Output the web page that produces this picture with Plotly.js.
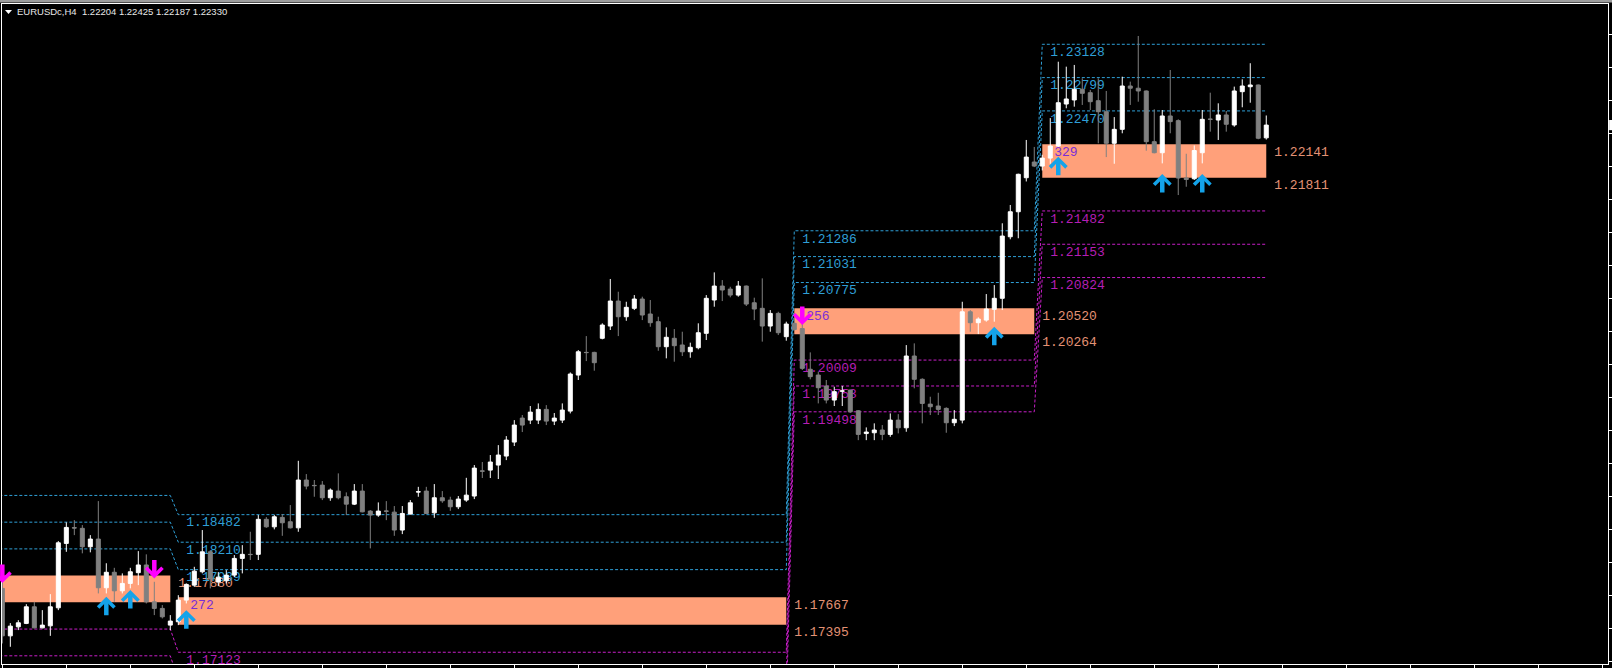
<!DOCTYPE html>
<html><head><meta charset="utf-8">
<script src="https://cdn.plot.ly/plotly-3.0.1.min.js"></script>
<style>html,body{margin:0;padding:0;background:#000;overflow:hidden}#chart{width:1612px;height:668px}</style>
</head><body><div id="chart"></div>
<script>
// ---------- data ----------
const symbol = "EURUSDc,H4";
const openP = [1.17754,1.17285,1.17374,1.17408,1.17572,1.17364,1.17384,1.17562,1.18198,1.18354,
1.18347,1.18165,1.18241,1.17760,1.17913,1.17730,1.17803,1.17909,1.17985,1.17621,
1.17556,1.17391,1.17424,1.17638,1.17786,1.17918,1.18115,1.17816,1.17829,1.17885,
1.18050,1.18090,1.18090,1.18436,1.18362,1.18455,1.18412,1.18352,1.18824,1.18771,
1.18774,1.18649,1.18715,1.18659,1.18586,1.18715,1.18517,1.18478,1.18518,1.18507,
1.18330,1.18488,1.18706,1.18715,1.18500,1.18649,1.18626,1.18560,1.18626,1.18666,
1.18914,1.18922,1.18972,1.19061,1.19199,1.19436,1.19416,1.19416,1.19522,1.19406,
1.19416,1.19505,1.19861,1.20085,1.20085,1.20224,1.20345,1.20592,1.20437,1.20520,
1.20612,1.20464,1.20388,1.20141,1.20224,1.20158,1.20091,1.20131,1.20273,1.20602,
1.20740,1.20710,1.20651,1.20740,1.20575,1.20520,1.20345,1.20470,1.20240,1.20372,
1.20320,1.19918,1.19861,1.19753,1.19614,1.19702,1.19713,1.19508,1.19283,1.19291,
1.19318,1.19275,1.19416,1.19340,1.20049,1.19819,1.19574,1.19555,1.19532,1.19390,
1.19416,1.20486,1.20378,1.20404,1.20510,1.20619,1.21227,1.21474,1.21810,1.21965,
1.21925,1.22004,1.22123,1.22538,1.22578,1.22684,1.22650,1.22571,1.22462,1.22150,
1.22288,1.22716,1.22694,1.22667,1.22166,1.22057,1.22420,1.22374,1.21807,1.21800,
1.22057,1.22389,1.22380,1.22430,1.22331,1.22660,1.22709,1.22726,1.22204];
const highP = [1.17855,1.17411,1.17440,1.17598,1.17621,1.17539,1.17697,1.18221,1.18406,1.18428,
1.18379,1.18280,1.18616,1.18002,1.17957,1.17902,1.17957,1.18122,1.18090,1.17819,
1.17589,1.17490,1.17687,1.17803,1.17967,1.18330,1.18132,1.17915,1.17934,1.18083,
1.18181,1.18313,1.18478,1.18458,1.18478,1.18488,1.18577,1.19014,1.18883,1.18824,
1.18814,1.18741,1.18890,1.18702,1.18784,1.18784,1.18527,1.18603,1.18616,1.18567,
1.18567,1.18626,1.18757,1.18757,1.18784,1.18715,1.18659,1.18666,1.18846,1.18972,
1.19002,1.19071,1.19169,1.19258,1.19416,1.19466,1.19555,1.19581,1.19564,1.19486,
1.19581,1.19887,1.20108,1.20246,1.20091,1.20372,1.20810,1.20684,1.20585,1.20651,
1.20635,1.20602,1.20437,1.20332,1.20315,1.20289,1.20181,1.20372,1.20651,1.20875,
1.20799,1.20733,1.20790,1.20745,1.20625,1.20816,1.20503,1.20486,1.20388,1.20404,
1.20365,1.20085,1.19894,1.19812,1.19746,1.19753,1.19716,1.19515,1.19344,1.19384,
1.19367,1.19482,1.19475,1.20157,1.20174,1.19829,1.19647,1.19686,1.19542,1.19515,
1.20585,1.20503,1.20431,1.20661,1.20750,1.21360,1.21541,1.21850,1.22183,1.22114,
1.22037,1.22399,1.22956,1.22907,1.22924,1.22792,1.22677,1.22792,1.22667,1.22409,
1.22808,1.22759,1.23210,1.22672,1.22486,1.22479,1.22874,1.22387,1.22047,1.22129,
1.22479,1.22650,1.22545,1.22469,1.22710,1.22782,1.22941,1.22730,1.22425];
const lowP = [1.17210,1.17177,1.17342,1.17401,1.17360,1.17360,1.17285,1.17539,1.18115,1.18280,
1.18100,1.18110,1.17704,1.17704,1.17621,1.17704,1.17754,1.17786,1.17605,1.17490,
1.17457,1.17342,1.17391,1.17605,1.17769,1.17902,1.17754,1.17776,1.17803,1.17865,
1.17902,1.18034,1.18034,1.18352,1.18337,1.18273,1.18346,1.18313,1.18732,1.18659,
1.18626,1.18619,1.18633,1.18478,1.18577,1.18505,1.18149,1.18461,1.18428,1.18273,
1.18290,1.18484,1.18659,1.18488,1.18451,1.18599,1.18520,1.18537,1.18609,1.18636,
1.18844,1.18844,1.18834,1.19021,1.19160,1.19298,1.19377,1.19377,1.19367,1.19367,
1.19387,1.19482,1.19812,1.19999,1.19904,1.20214,1.20306,1.20246,1.20397,1.20503,
1.20404,1.20338,1.20101,1.20026,1.19993,1.20049,1.20032,1.20115,1.20207,1.20536,
1.20592,1.20629,1.20635,1.20543,1.20404,1.20191,1.20289,1.20256,1.20200,1.20300,
1.19911,1.19819,1.19581,1.19581,1.19555,1.19555,1.19488,1.19218,1.19218,1.19218,
1.19218,1.19251,1.19285,1.19301,1.19730,1.19384,1.19466,1.19466,1.19291,1.19357,
1.19384,1.20289,1.20266,1.20388,1.20388,1.20503,1.21202,1.21212,1.21773,1.21915,
1.21882,1.21948,1.22113,1.22496,1.22512,1.22529,1.22479,1.22150,1.22014,1.21948,
1.22249,1.22529,1.22561,1.22077,1.22051,1.21952,1.22249,1.21639,1.21721,1.21788,
1.21952,1.22265,1.22183,1.22265,1.22314,1.22506,1.22551,1.22190,1.22187];
const closeP = [1.17285,1.17381,1.17414,1.17572,1.17364,1.17391,1.17572,1.18204,1.18356,1.18350,
1.18165,1.18241,1.17760,1.17913,1.17730,1.17803,1.17918,1.17985,1.17621,1.17556,
1.17473,1.17431,1.17638,1.17793,1.17924,1.18115,1.17846,1.17865,1.17885,1.18050,
1.18090,1.18088,1.18436,1.18362,1.18461,1.18402,1.18352,1.18824,1.18764,1.18769,
1.18649,1.18725,1.18649,1.18586,1.18715,1.18510,1.18478,1.18517,1.18516,1.18330,
1.18494,1.18599,1.18708,1.18494,1.18649,1.18619,1.18560,1.18636,1.18675,1.18942,
1.18912,1.19002,1.19071,1.19219,1.19367,1.19367,1.19495,1.19522,1.19406,1.19436,
1.19515,1.19871,1.20091,1.20083,1.19983,1.20355,1.20592,1.20437,1.20530,1.20612,
1.20454,1.20378,1.20141,1.20234,1.20151,1.20091,1.20135,1.20279,1.20619,1.20740,
1.20701,1.20651,1.20740,1.20562,1.20513,1.20345,1.20470,1.20279,1.20365,1.20310,
1.19927,1.19845,1.19736,1.19614,1.19697,1.19704,1.19498,1.19275,1.19298,1.19318,
1.19275,1.19416,1.19340,1.20049,1.19819,1.19581,1.19548,1.19522,1.19390,1.19424,
1.20486,1.20378,1.20414,1.20513,1.20619,1.21234,1.21474,1.21844,1.22014,1.21925,
1.22004,1.22123,1.22551,1.22588,1.22684,1.22644,1.22561,1.22462,1.22150,1.22288,
1.22716,1.22694,1.22667,1.22166,1.22057,1.22420,1.22364,1.21807,1.21793,1.22079,
1.22387,1.22387,1.22430,1.22338,1.22667,1.22716,1.22726,1.22200,1.22330];
const bars = openP.map((_, i) => i);   // bar index along the time axis

// level periods (bar index where each set of levels begins / ends)
const periodStart = [-1, 22, 99, 130];
const periodEnd   = [21, 98, 129, 158];
const zoneTop     = [1.17880, 1.17667, 1.20520, 1.22141];
const zoneBottom  = [1.17616, 1.17395, 1.20264, 1.21811];
const zoneWidth   = ["264", "272", "256", "329"];
const res1 = [1.18144, 1.17939, 1.20775, 1.22470];
const res2 = [1.18408, 1.18210, 1.21031, 1.22799];
const res3 = [1.18672, 1.18482, 1.21286, 1.23128];
const sup1 = [1.17352, 1.17123, 1.20009, 1.21482];
const sup2 = [1.17088, 1.16851, 1.19753, 1.21153];
const sup3 = [1.16824, 1.16579, 1.19498, 1.20824];

// signal arrows: bar index and price of the arrow tip
const buyBars   = [13, 16, 23, 124, 132, 145, 150];
const buyTips   = [1.17671, 1.17737, 1.17539, 1.20338, 1.22018, 1.21847, 1.21847];
const sellBars  = [0, 19, 100];
const sellTips  = [1.17806, 1.17852, 1.20355];

// ---------- drawing ----------
const Y0 = 1.17007, Y1 = 1.23526;
const X0 = -0.04, X1 = 200.72;
const PX = (Y1 - Y0) / 660;            // price per screen pixel
const CYAN = "#2F9FD6", MAG = "#C81EC8", ZONE = "#FFA07A", ZTXT = "#E39274", PURP = "#7A2FD6";
const fmt = v => v.toFixed(5);

const traces = [];
function stepLine(vals, color) {
  const xs = [], ys = [];
  for (let p = 0; p < periodStart.length; p++) {
    xs.push(periodStart[p], periodEnd[p]); ys.push(vals[p], vals[p]);
  }
  traces.push({type:'scatter', mode:'lines', x:xs, y:ys, xaxis:'x', yaxis:'y',
    line:{color:color, width:1, dash:'3px,2px'}, hoverinfo:'skip', showlegend:false});
}
[res1, res2, res3].forEach(v => stepLine(v, CYAN));
[sup1, sup2, sup3].forEach(v => stepLine(v, MAG));

function labels(xs, ys, txt, color) {
  traces.push({type:'scatter', mode:'text', x:xs, y:ys.map(v => v - 2 * PX), text:txt, xaxis:'x', yaxis:'y',
    textposition:'bottom right', cliponaxis:true,
    textfont:{family:'Liberation Mono, DejaVu Sans Mono, monospace', size:13, color:color},
    hoverinfo:'skip', showlegend:false});
}
// level labels at the start of each visible period
const lx = [], ly = [], lt = [], mx = [], my = [], mt = [];
for (let p = 1; p < periodStart.length; p++) {
  [res1, res2, res3].forEach(v => { lx.push(periodStart[p] + 1); ly.push(v[p]); lt.push(fmt(v[p])); });
  [sup1, sup2, sup3].forEach(v => { mx.push(periodStart[p] + 1); my.push(v[p]); mt.push(fmt(v[p])); });
}
// zone labels at the end of each zone
const zx = [], zy = [], zt = [];
for (let p = 0; p < periodStart.length; p++) {
  zx.push(periodEnd[p] + 1); zy.push(zoneTop[p]); zt.push(fmt(zoneTop[p]));
  if (p > 0) { zx.push(periodEnd[p] + 1); zy.push(zoneBottom[p]); zt.push(fmt(zoneBottom[p])); }
}
labels(zx, zy, zt, ZTXT);
labels(lx, ly, lt, CYAN);
labels(mx, my, mt, "#B41EB4");
labels(periodStart.slice(1).map(s => s + 1.5), zoneTop.slice(1), zoneWidth.slice(1), PURP);

traces.push({type:'candlestick', x:bars, open:openP, high:highP, low:lowP, close:closeP,
  xaxis:'x2', yaxis:'y2', whiskerwidth:0, hoverinfo:'skip', showlegend:false,
  increasing:{line:{color:'#FFFFFF', width:1}, fillcolor:'#FFFFFF'},
  decreasing:{line:{color:'#808080', width:1}, fillcolor:'#808080'}});

const shapes = [];
for (let p = 0; p < periodStart.length; p++) {
  shapes.push({type:'rect', xref:'x', yref:'y', x0:periodStart[p], x1:periodEnd[p],
    y0:zoneBottom[p], y1:zoneTop[p], fillcolor:ZONE, line:{width:0}, layer:'below'});
}
// window chrome
shapes.push({type:'rect', xref:'paper', yref:'paper', x0:-0.01, x1:1.01, y0:1.0023, y1:1.0065,
  fillcolor:'#9C9C9C', line:{width:0}, layer:'above'});
shapes.push({type:'path', xref:'paper', yref:'paper',
  path:'M 0.00187 0.99091 L 0.00623 0.99091 L 0.00405 0.98485 Z', fillcolor:'#FFFFFF', line:{width:0}});
shapes.push({type:'rect', xref:'paper', yref:'y', x0:1.0007, x1:1.004,
  y0:closeP[closeP.length-1] - 0.0005, y1:closeP[closeP.length-1] + 0.0005, fillcolor:'#FFFFFF', line:{width:0}});

const annotations = [];
const arrowStyle = {xref:'x', yref:'y', text:'', showarrow:true, ax:0, arrowhead:4, arrowsize:0.7,
  arrowwidth:4.5, standoff:0};
buyBars.forEach((b, k) => annotations.push(Object.assign({x:b, y:buyTips[k], ay:20, arrowcolor:'#14A3EA'}, arrowStyle)));
sellBars.forEach((b, k) => annotations.push(Object.assign({x:b, y:sellTips[k], ay:-20, arrowcolor:'#FF00FF'}, arrowStyle)));
const n = closeP.length - 1;
annotations.push({xref:'paper', yref:'paper', x:0.0085, y:0.9879, xanchor:'left', yanchor:'middle',
  showarrow:false, borderpad:0,
  text: symbol + '\u00a0\u00a0' + [openP[n], highP[n], lowP[n], closeP[n]].map(fmt).join(' '),
  font:{family:'Liberation Sans, Arial, sans-serif', size:9.5, color:'#E8E8E8'}});

const axBase = {showgrid:false, zeroline:false, showticklabels:false, fixedrange:true};
const layout = {
  width:1612, height:668, margin:{l:2, r:4, t:4, b:4, pad:0},
  paper_bgcolor:'#000000', plot_bgcolor:'#000000', showlegend:false,
  boxgap:0.5, boxgroupgap:0,
  xaxis: Object.assign({}, axBase, {range:[X0, X1], showline:true, linecolor:'#FFFFFF', linewidth:1,
    mirror:true, ticks:'outside', ticklen:4, tickcolor:'#FFFFFF', tick0:8, dtick:8,
    rangeslider:{visible:false}}),
  yaxis: Object.assign({}, axBase, {range:[Y0, Y1], side:'right', showline:true, linecolor:'#FFFFFF',
    linewidth:1, mirror:true, ticks:'outside', ticklen:4, tickcolor:'#FFFFFF', tick0:1.17034, dtick:0.003259}),
  xaxis2: Object.assign({}, axBase, {range:[X0, X1], overlaying:'x', visible:false, rangeslider:{visible:false}}),
  yaxis2: Object.assign({}, axBase, {range:[Y0, Y1], overlaying:'y', visible:false}),
  shapes: shapes, annotations: annotations, hovermode:false
};
Plotly.newPlot('chart', traces, layout, {staticPlot:true, displayModeBar:false});
</script></body></html>
